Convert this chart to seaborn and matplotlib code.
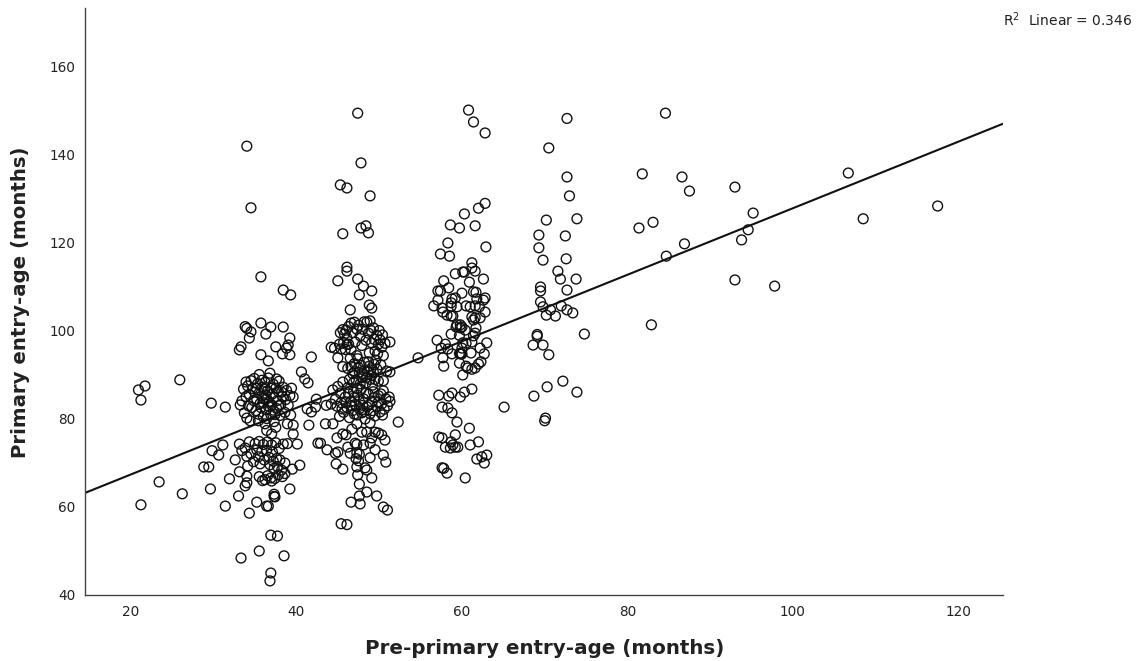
import matplotlib
matplotlib.use("Agg")
import matplotlib.pyplot as plt
import seaborn as sns
import pandas as pd

# (pre-primary age, primary age), group by group
group_a_pairs = [
    (34.0,142),(34.5,128),(35.7,112.3),(38.4,109.3),(39.3,108.2),(33.8,101),(34,100.6),(35.7,101.8),(36.9,100.9),
    (38.4,100.9),(34.5,99.8),(34.3,98.4),(36.3,99.3),(39.2,98.4),(37.5,96.4),(39,96.8),(38.8,96.1),(33.3,96.4),
    (33.1,95.7),(38.3,94.8),(39.2,94.6),(35.7,94.6),(36.6,93.2),(20.9,86.6),(21.7,87.5),(21.2,84.3),(25.9,88.9),
    (29.7,83.6),(31.4,82.7),(40.6,90.7),(41,89.1),(41.4,88.2),(41.8,94.1),(42.4,84.5),(41.3,82.3),(42.3,82.7),
    (41.8,81.6),(41.5,78.6),(39.6,78.6),(39.6,76.6),(40.1,74.3),(42.6,74.5),(40.4,69.5),(39.5,68.6),(38.6,70),
    (39.2,64.1),(31.1,74.1),(29.8,72.8),(30.6,71.8),(28.8,69.1),(29.4,69.1),(32.6,70.7),(33.1,68),(31.9,66.4),
    (23.4,65.7),(26.2,63),(21.2,60.5),(29.6,64.1),(33,62.5),(31.4,60.2),(34.3,58.6),(35.2,61.1),(36.4,60.2),
    (36.6,60.2),(37.3,62.9),(37.4,62.3),(37.3,62.4),(36.9,53.6),(37.7,53.4),(35.5,50),(33.3,48.4),(38.5,48.9),
    (36.9,45),(36.8,43.2),(33.8,64.8),(34,65.5),(34,67),(34.1,69.3),
    (33.2,83.2),(33.4,84.1),(33.6,86.8),(33.9,88.4),(34.1,87.5),(34.3,85.6),(34.5,88.7),(34.6,82.6),(33.7,81.4),
    (34.0,80.2),(34.4,79.6),(34.8,84.2),(35.0,86.1),(35.1,81.9),(35.3,88.0),(35.5,90.1),(35.6,83.5),(35.8,85.2),
    (35.9,87.2),(36.0,80.5),(36.2,78.9),(36.3,82.1),(36.4,84.6),(36.5,86.4),(36.6,89.3),(36.8,90.4),(36.9,81.0),
    (37.0,83.2),(37.1,85.7),(37.2,87.9),(37.3,79.4),(37.5,78.1),(37.6,82.4),(37.7,84.2),(37.8,86.3),(37.9,88.6),
    (38.0,80.8),(38.1,83.3),(38.3,85.1),(38.4,87.2),(38.6,81.5),(38.7,84.4),(38.8,86.5),(39.0,83.1),(39.2,85.3),
    (39.3,80.9),(39.4,87.0),(35.2,84.5),(36.1,86.9),(36.7,83.9),(37.4,81.0),(35.4,79.6),(34.2,83.0),(34.9,89.2),
    (37.6,89.1),(36.2,88.3),(35.7,82.6),(33.9,85.1),(38.9,78.9),(39.6,85.0),(36.4,77.4),(37.0,76.6),
    (33.1,74.3),(33.4,72.8),(33.8,73.4),(34.0,71.5),(34.3,74.8),(34.5,72.1),(34.8,70.3),(35.0,74.4),(35.2,73.0),
    (35.4,71.4),(35.5,74.9),(35.6,69.8),(35.8,72.6),(36.0,74.2),(36.1,70.7),(36.2,66.2),(35.5,66.9),(35.9,66.0),
    (36.4,72.9),(36.5,74.8),(36.7,71.3),(36.8,69.6),(36.9,66.6),(37.0,74.1),(37.1,72.5),(37.2,70.4),(37.3,68.8),
    (37.5,74.6),(37.6,71.0),(37.7,69.2),(37.8,67.3),(37.9,73.3),(38.0,70.7),(38.2,68.4),(38.3,66.9),(38.4,74.3),
    (38.6,67.6),(38.9,74.4),(37.0,65.9),(37.4,66.5),(36.5,67.1),
    (35.1,87.0),(35.5,85.9),(36.0,83.7),(36.3,85.5),(36.6,82.9),(36.9,87.0),(37.3,84.9),(37.5,87.0),(37.9,83.0),
    (36.0,84.6),(35.4,81.1),(34.7,86.9),(37.2,82.0),(36.4,80.1),(38.2,86.1),(35.8,88.8),
]
group_b_pairs = [
    (47.4,149.5),(47.8,138.2),(45.3,133.2),(46.1,132.5),(48.9,130.7),(48.4,123.9),(47.8,123.4),(48.7,122.3),
    (45.6,122.1),(46.1,114.5),(46.1,113.6),(45,111.4),(47.4,111.8),(48.1,110.2),(49.1,109.1),(47.6,108.2),
    (48.8,105.9),(49.1,105.2),(46.5,104.8),(54.7,93.9),
    (43.5,78.9),(44.4,78.9),(44.9,75.7),(45.6,76.6),(46,76.4),(42.9,74.5),(43.7,73),(44.7,72.2),(45,72.5),
    (44.8,69.8),(45.6,68.6),(46.6,61.1),(47.7,60.7),(47.6,62.5),(48.5,63.4),(49.7,62.5),(47.6,65.2),(49.1,66.6),
    (50.5,60),(51,59.3),(45.4,56.2),(46.1,56),(52.3,79.3),(51.3,97.5),(51.3,90.7),(50.8,70.2),(50.5,71.8),
    (50.7,75.2),(50.3,76.4),(49.9,76.8),(49.5,73),(48.9,71.2),(48.5,68.4),(48.3,68.9),(47.4,67.3),(47.3,69.1),
    (47.6,72),(47.3,72.3),(46.5,72.2),(46.2,73.6),(47.1,74.5),(47.3,74.2),(48.1,74.1),(48.9,74.5),(49.1,75.7),
    (48.5,77),(47.9,77),(47.3,78.9),(46.7,77.7),(48.9,79.1),(49.5,77),(47.5,70.5),(47.2,71.0),
    (44.2,96.3),(44.6,96.1),(45.0,93.9),(45.2,97.0),(45.3,99.6),(45.6,100.3),(45.7,97.4),(45.9,95.8),(46.1,98.4),
    (46.3,101.0),(46.6,101.8),(46.8,99.6),(47.0,102.0),(47.1,97.5),(47.3,94.4),(47.5,101.3),(47.9,96.7),(48.2,102.1),
    (48.5,102.0),(48.7,99.5),(48.9,102.3),(49.1,97.3),(49.3,100.7),(49.5,95.4),(49.7,99.0),(49.9,97.0),(50.0,100.1),
    (50.3,96.3),(50.4,99.1),(50.5,94.4),(50.7,97.2),(49.6,93.4),(46.1,96.9),(45.6,91.9),(46.2,91.5),(46.5,93.8),
    (46.8,90.3),(47.0,92.6),(47.2,88.9),(47.4,93.7),(47.6,90.6),(47.8,92.2),(48.0,89.4),(48.2,91.0),(48.4,88.2),
    (48.6,90.7),(48.7,93.0),(48.9,89.0),(49.0,91.4),(49.2,87.7),(49.3,90.6),(49.5,89.0),(49.7,91.4),(49.9,88.6),
    (50.2,92.3),(50.5,88.7),(50.9,90.9),(44.4,86.6),(44.7,84.5),(44.9,82.9),(45.0,87.4),(45.2,80.6),(45.4,83.7),
    (45.6,88.4),(45.7,81.5),(45.9,85.0),(46.1,82.6),(46.2,87.1),(46.4,80.3),(46.6,84.0),(46.8,81.9),(46.9,86.2),
    (47.1,83.3),(47.3,80.9),(47.4,85.4),(47.6,82.3),(47.8,86.7),(47.9,81.4),(48.1,84.6),(48.3,80.0),(48.5,82.8),
    (48.7,85.6),(48.9,81.2),(49.1,83.9),(49.3,86.2),(49.5,80.7),(49.7,82.9),(49.9,85.3),(50.1,81.6),(50.3,83.4),
    (50.5,86.4),(50.6,82.2),(50.8,84.6),(51.0,83.0),(51.2,85.0),(51.3,84.0),(44.2,83.4),(43.6,83.1),(48.0,83.1),
    (47.0,84.9),(46.4,89.0),(45.3,85.9),
    (45.4,95.9),(45.8,99.3),(46.0,100.2),(46.3,97.0),(46.6,95.7),(47.3,100.4),(47.7,98.9),(48.0,100.4),(48.4,97.9),
    (48.8,95.0),(49.0,100.1),(49.4,98.1),(49.8,94.8),(50.1,98.0),(47.0,90.7),(47.5,91.7),(47.9,90.3),(48.2,92.9),
    (48.5,89.5),(48.8,92.0),(49.1,89.9),(49.4,92.4),(47.7,88.0),(46.6,91.9),(46.9,88.3),(47.3,86.9),(46.3,85.7),
    (46.0,83.9),(45.5,82.3),(46.7,83.0),(47.6,84.0),(48.4,85.9),(48.8,83.2),(49.4,84.9),(49.9,83.9),(50.2,85.7),
    (50.4,80.9),(49.2,81.9),(48.2,81.7),(47.0,81.1),
]
group_c_pairs = [
    (60.8,150.2),(61.4,147.5),(62.8,145),(60.3,126.6),(62.8,129),(62,127.9),(61.6,123.9),(58.6,124.1),(59.7,123.4),
    (58.3,120),(62.9,119.1),(57.4,117.5),(58.5,117),(61.2,115.5),(61.2,114.3),(61.6,113.6),(60.3,113.4),(60.1,113.4),
    (59.2,113),(57.8,111.4),(62.6,111.8),(60.9,111.1),(58.4,109.8),(57.4,109.1),(57.1,109.1),(60,108.6),(61.4,108.9),
    (61.7,108.8),(59.2,107.5),(62.8,107.5),(62.6,107),(61.8,107.3),(58.8,107.3),(57.1,107),(56.6,105.7),(58.7,106.4),
    (58.7,105.6),(59.4,105.5),(60.5,105.7),(61.6,105.7),(61,105.5),(62.1,105.5),(57.6,105.2),(57.7,104.3),(58.2,103.6),
    (58.7,103.4),(58.9,103.4),(61.2,103.2),(61.6,103),(62.2,103),(62.8,104.3),(61.4,102.5),(59.4,101.4),(59.8,101.4),
    (60,100.9),(59.3,100.9),(60.4,100.2),(61.7,100.7),(59.8,100.7),(58.7,99.3),(59.7,99),(61.6,99.5),(61.4,98.9),
    (57,97.9),(63,97.3),(60.1,97.3),(61.2,97.5),(58,97),(60.5,97.2),(62.2,96.1),(57.5,96.1),(58.3,95.9),(60,96.1),
    (62.7,94.8),(59.8,94.8),(59.9,94.8),(60,94.8),(59.7,94.9),(61.1,95),(58.8,94.8),(57.7,93.9),(62.3,93),(62,92.5),
    (57.8,92),(59.7,92.7),(60.5,92),(60.7,91.6),(61.2,91.3),(61.6,91.6),(60.1,90),
    (61.2,86.8),(60.3,86.1),(59.8,85),(58.8,85.9),(58.4,85.2),(57.2,85.4),(57.6,82.7),(58.3,82.5),(58.8,81.4),(59.4,79.3),
    (60.9,77.9),(59.2,76.4),(57.2,75.9),(57.6,75.7),(62,74.8),(61,74.1),(58.7,74.8),(58,73.6),(58.6,73.4),(58.9,74.1),
    (59.2,73.6),(59.5,73.6),(63,71.8),(62.4,71.4),(61.8,70.9),(62.7,70),(57.6,68.9),(57.8,68.8),(58.2,67.7),(60.4,66.6),
    (65.1,82.7),
]
group_d_pairs = [
    (70.2,125.2),(73.9,125.5),(69.3,121.8),(72.5,121.6),(69.3,118.9),(69.8,116.1),(72.6,116.4),(71.6,113.6),(71.9,111.8),
    (73.8,111.8),(72.7,109.3),(69.5,110),(69.5,109.1),(69.5,106.6),(69.8,105.5),(70.2,103.6),(70.7,104.8),(71.3,103.4),
    (72,105.7),(72.7,104.8),(73.4,104.1),(74.8,99.3),(69.1,99.2),(69.1,98.8),(68.6,96.8),(69.8,96.8),(70.5,94.6),
    (72.2,88.6),(70.3,87.3),(73.9,86.1),(68.7,85.2),(70.1,80.2),(70,79.6),(70.5,141.6),(72.7,148.3),(72.7,135),(73,130.7),
]
group_e_pairs = [
    (84.6,149.5),(81.8,135.7),(86.6,135),(87.5,131.8),(93,132.7),(95.2,126.8),(94.6,123),(93.8,120.7),(86.9,119.8),
    (84.7,117),(81.4,123.4),(83.1,124.7),(93,111.6),(97.8,110.2),(82.9,101.4),(106.7,135.9),(108.5,125.5),(117.5,128.4),
]
fit_x = [14.44, 125.4]
fit_y = [63.2, 147.1]
x_ticks = [20, 40, 60, 80, 100, 120]
y_ticks = [40, 60, 80, 100, 120, 140, 160]
x_label = "Pre-primary entry-age (months)"
y_label = "Primary entry-age (months)"
r2_note = r"R$^2$  Linear = 0.346"

pairs = group_a_pairs + group_b_pairs + group_c_pairs + group_d_pairs + group_e_pairs
df = pd.DataFrame(pairs, columns=["pre", "primary"])

sns.set_style("white")
plt.rcParams["font.family"] = ["DejaVu Sans"]
plt.rcParams["mathtext.default"] = "regular"
fig = plt.figure(figsize=(11.41, 6.61), dpi=100)
ax = fig.add_axes([85/1141, 1-595/661, (1003-85)/1141, (595-8)/661])

sns.scatterplot(data=df, x="pre", y="primary", ax=ax, marker="o", s=50,
                facecolor="none", edgecolor="#111111", linewidth=1.0, zorder=3)
sns.lineplot(x=fit_x, y=fit_y, ax=ax, color="#111111", linewidth=1.5, zorder=2)

ax.set_xlim(14.44, 125.4)
ax.set_ylim(40, 173.4)
ax.set_xticks(x_ticks)
ax.set_yticks(y_ticks)
ax.tick_params(axis="both", length=0, labelsize=9.8, labelcolor="#222222", pad=7)
ax.set_xlabel(x_label, fontsize=14.3, fontweight="bold", color="#222222")
ax.set_ylabel(y_label, fontsize=14.2, fontweight="bold", color="#222222")
ax.xaxis.set_label_coords(545/1141, 1-648/661, transform=fig.transFigure)
ax.yaxis.set_label_coords(21/1141, 1-302/661, transform=fig.transFigure)
ax.xaxis.label.set_va("center")
ax.yaxis.label.set_va("center")
for s in ["top", "right"]:
    ax.spines[s].set_visible(False)
for s in ["left", "bottom"]:
    ax.spines[s].set_color("#444444")
    ax.spines[s].set_linewidth(1.0)
fig.text(1133/1141, 1-20/661, r2_note, ha="right", va="center", fontsize=10, color="#222222")
fig.savefig("out.png", dpi=100)
